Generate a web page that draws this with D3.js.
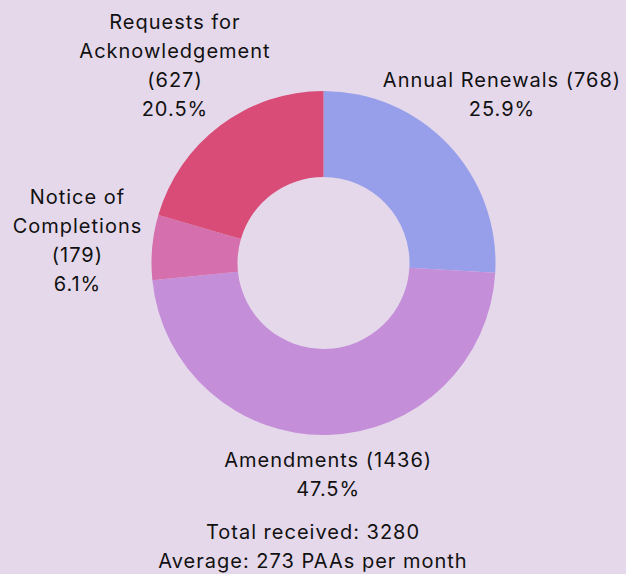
<!DOCTYPE html>
<html>
<head>
    <script src="https://d3js.org/d3.v7.min.js"></script>
    <style>
        body { margin: 0; background: #e5d8eb; }
        text { font-family: "Inter", sans-serif; font-size: 20px; letter-spacing: 1px; fill: #111; }
    </style>
</head>
<body>
    <div id="chart"></div>
    <script>
        const width = 626, height = 574
        const categories = ["Annual Renewals", "Amendments", "Notice of Completions", "Requests for Acknowledgement"]
        const counts = [768, 1436, 179, 627]
        const percents = [25.9, 47.5, 6.1, 20.5]
        // label line breaks as shown on the chart
        const labelLines = [
            ["Annual Renewals (768)", "25.9%"],
            ["Amendments (1436)", "47.5%"],
            ["Notice of", "Completions", "(179)", "6.1%"],
            ["Requests for", "Acknowledgement", "(627)", "20.5%"]
        ]
        const colors = ["#979fea", "#c58ed8", "#d56fad", "#d84c77"]
        const footer = ["Total received: 3280", "Average: 273 PAAs per month"]

        const cx = 323.5, cy = 263
        const outerR = 172, innerR = 86
        const lineH = 29
        // small radial nudges so labels sit where the original put them
        const labelNudge = [22, 0, -3, -7]

        const svg = d3.select("#chart").append("svg")
            .attr("width", width)
            .attr("height", height)

        const data = categories.map((c, i) => ({ name: c, count: counts[i], pct: percents[i], lines: labelLines[i], color: colors[i], nudge: labelNudge[i] }))

        const pie = d3.pie().sort(null).value(d => d.pct)
        const arc = d3.arc().innerRadius(innerR).outerRadius(outerR)
        const arcs = pie(data)

        const g = svg.append("g").attr("transform", `translate(${cx},${cy})`)
        g.selectAll("path")
            .data(arcs)
            .join("path")
            .attr("d", arc)
            .attr("fill", d => d.data.color)

        // labels sit just outside the ring, pushed outward by their box
        const labelR = 185
        const labels = g.selectAll("g.label")
            .data(arcs)
            .join("g")
            .attr("class", "label")
        labels.append("text")
            .attr("text-anchor", "middle")
            .selectAll("tspan")
            .data(d => d.data.lines)
            .join("tspan")
            .attr("x", 0)
            .attr("dy", (d, i) => i === 0 ? "0.35em" : lineH)
            .text(d => d)
        labels.each(function (d) {
            const t = d3.select(this).select("text")
            const bb = t.node().getBBox()
            const a = (d.startAngle + d.endAngle) / 2
            const dx = Math.sin(a), dy = -Math.cos(a)
            const hw = bb.width / 2, hh = bb.height / 2
            const tt = Math.min(Math.abs(dx) > 1e-6 ? hw / Math.abs(dx) : Infinity, Math.abs(dy) > 1e-6 ? hh / Math.abs(dy) : Infinity)
            const r = labelR + tt + d.data.nudge
            const bcx = bb.x + hw, bcy = bb.y + hh
            t.attr("transform", `translate(${r * dx - bcx},${r * dy - bcy})`)
        })

        svg.append("text")
            .attr("text-anchor", "middle")
            .selectAll("tspan")
            .data(footer)
            .join("tspan")
            .attr("x", 313)
            .attr("y", (d, i) => 539 + i * lineH)
            .text(d => d)
    </script>
</body>
</html>
